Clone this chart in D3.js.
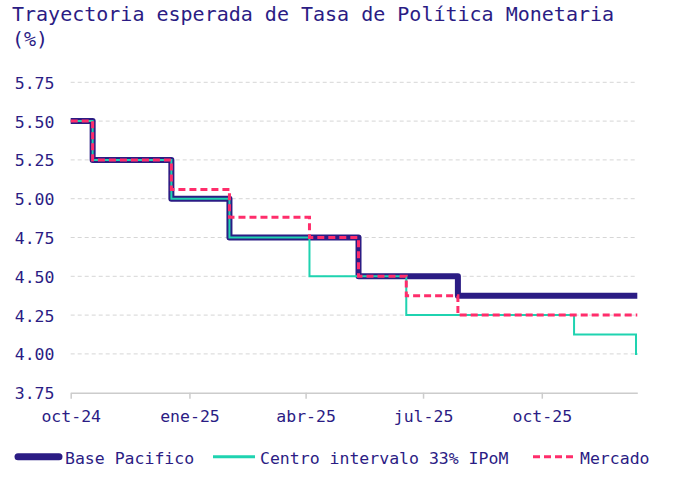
<!DOCTYPE html>
<html><head><meta charset="utf-8">
<script src="https://cdn.jsdelivr.net/npm/d3@7"></script>
<style>
html,body{margin:0;padding:0;background:#fff;}
svg{display:block;}
text{font-family:"DejaVu Sans Mono",monospace;fill:#2b1c84;}
</style></head>
<body>
<svg id="chart" width="673" height="478"></svg>
<script>
const dates = ["2024-10-01","2024-10-18","2024-12-18","2025-02-01","2025-04-04","2025-05-12","2025-06-18","2025-07-28","2025-10-26","2025-12-13","2025-12-14"];
const basePacifico = [5.50,5.25,5.00,4.75,4.75,4.50,4.50,4.375,4.375,4.375,4.375];
const centroIPoM   = [5.50,5.25,5.00,4.75,4.50,4.50,4.25,4.25,4.125,4.00,4.00];
const mercado      = [5.50,5.25,5.06,4.88,4.75,4.50,4.375,4.25,4.25,4.25,4.25];
const yTicks = [3.75,4.00,4.25,4.50,4.75,5.00,5.25,5.50,5.75];
const xTickDates = ["2024-10-01","2025-01-01","2025-04-01","2025-07-01","2025-10-01"];
const xTickLabels = ["oct-24","ene-25","abr-25","jul-25","oct-25"];
const seriesNames = ["Base Pacifico","Centro intervalo 33% IPoM","Mercado"];
const titleLines = ["Trayectoria esperada de Tasa de Política Monetaria","(%)"];

const NAVY="#2b1c84", TEAL="#1fd3b0", PINK="#ff2d6b";
const parse = d3.utcParse("%Y-%m-%d");
const svg = d3.select("#chart");
const L=70.7, R=637.3, T=82.3, B=392.7;

const x = d3.scaleUtc().domain([parse("2024-10-01"), parse("2025-12-14")]).range([L,R]);
const y = d3.scaleLinear().domain([3.75,5.75]).range([B,T]);

// title
svg.append("g").selectAll("text").data(titleLines).join("text")
  .attr("x",12).attr("y",(d,i)=>21+i*25)
  .style("font-size","20px").text(d=>d);

// grid
svg.append("g").selectAll("line").data(yTicks.filter(v=>v>3.75)).join("line")
  .attr("x1",L).attr("x2",R).attr("y1",d=>y(d)).attr("y2",d=>y(d))
  .attr("stroke","#d6d6d6").attr("stroke-width",1).attr("stroke-dasharray","4,3");

// y labels
svg.append("g").selectAll("text").data(yTicks).join("text")
  .attr("x",54.5).attr("y",d=>y(d)+6.5).attr("text-anchor","end")
  .style("font-size","16.5px").text(d=>d.toFixed(2));

// x axis
const xAxis = d3.axisBottom(x)
  .tickValues(xTickDates.map(parse))
  .tickFormat((d,i)=>xTickLabels[i])
  .tickSizeInner(6).tickSizeOuter(0).tickPadding(8);
const gx = svg.append("g").attr("transform",`translate(0,${B})`).call(xAxis);
gx.select(".domain").attr("stroke","#cccccc").attr("stroke-width",1.5);
gx.selectAll(".tick line").attr("stroke","#cccccc").attr("stroke-width",1.5);
gx.selectAll(".tick text").style("font-size","16.5px").style("font-family","DejaVu Sans Mono").attr("fill",NAVY).attr("dy","0.9em");

// lines
const rows = dates.map((d,i)=>({date:parse(d),b:basePacifico[i],c:centroIPoM[i],m:mercado[i]}));
const mk = key => d3.line().x(d=>x(d.date)).y(d=>y(d[key])).curve(d3.curveStepAfter);
svg.append("path").datum(rows).attr("d",mk("b")).attr("fill","none")
  .attr("stroke",NAVY).attr("stroke-width",6).attr("stroke-linejoin","round");
svg.append("path").datum(rows).attr("d",mk("c")).attr("fill","none")
  .attr("stroke",TEAL).attr("stroke-width",2);
svg.append("path").datum(rows).attr("d",mk("m")).attr("fill","none")
  .attr("stroke",PINK).attr("stroke-width",3).attr("stroke-dasharray","7,4");

// legend
const lg = svg.append("g");
const items = [
  {name:seriesNames[0], x1:15, x2:62, tx:65, color:NAVY, w:7, dash:null, cap:"round"},
  {name:seriesNames[1], x1:213, x2:255, tx:260, color:TEAL, w:3, dash:null, cap:"butt"},
  {name:seriesNames[2], x1:533, x2:576, tx:580, color:PINK, w:3, dash:"7,4", cap:"butt"}
];
items.forEach(it=>{
  lg.append("line").attr("x1",it.x1+(it.cap==="round"?3:0)).attr("x2",it.x2-(it.cap==="round"?3:0))
    .attr("y1",456.7).attr("y2",456.7)
    .attr("stroke",it.color).attr("stroke-width",it.w).attr("stroke-linecap",it.cap)
    .attr("stroke-dasharray",it.dash);
  lg.append("text").attr("x",it.tx).attr("y",464).style("font-size","16.5px").text(it.name);
});
</script>
</body></html>
